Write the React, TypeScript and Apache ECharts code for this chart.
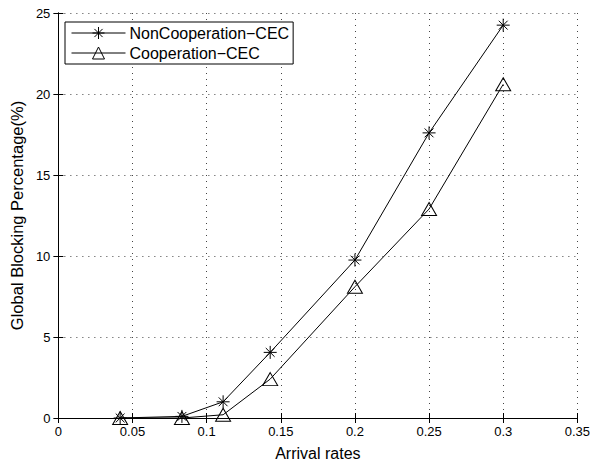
import React, { useEffect, useRef } from "react";
import * as echarts from "echarts";

const arrivalRates = [1 / 24, 1 / 12, 1 / 9, 1 / 7, 0.2, 0.25, 0.3];
const nonCoop = [0.0, 0.1, 1.0, 4.05, 9.75, 17.6, 24.25];
const coop = [0.0, 0.0, 0.2, 2.4, 8.1, 12.9, 20.6];
const seriesNames = ["NonCooperation\u2212CEC", "Cooperation\u2212CEC"];

const STAR = "path://M0,5L10,5M5,0L5,10M1.6,1.6L8.4,8.4M1.6,8.4L8.4,1.6";
const FONT = "Liberation Sans, Arial, Helvetica, sans-serif";

export default function App() {
  const ref = useRef<HTMLDivElement>(null);
  useEffect(() => {
    if (!ref.current) return;
    const chart = echarts.init(ref.current, null, { renderer: "svg" });
    const grid = { left: 57, right: 14, top: 13, bottom: 42, containLabel: false };
    const gridLine = { show: true, lineStyle: { color: "#444", width: 1, type: [1, 5] as any } };
    chart.setOption({
      animation: false,
      backgroundColor: "#fff",
      textStyle: { fontFamily: FONT },
      grid,
      legend: {
        left: 65,
        top: 22,
        orient: "vertical",
        itemWidth: 54,
        itemHeight: 15,
        itemGap: 4,
        padding: [3, 4, 3, 6],
        borderColor: "#000",
        borderWidth: 1,
        backgroundColor: "#fff",
        lineStyle: { width: 1 },
        itemStyle: { borderWidth: 1 },
        textStyle: { fontFamily: FONT, fontSize: 16, color: "#000", padding: [0, 0, 0, -1] },
        data: seriesNames,
      },
      xAxis: [
        {
          type: "value",
          min: 0,
          max: 0.35,
          interval: 0.05,
          name: "Arrival rates",
          nameLocation: "middle",
          nameGap: 27,
          nameTextStyle: { fontFamily: FONT, fontSize: 16, color: "#000" },
          axisLine: { show: true, lineStyle: { color: "#000", width: 1 } },
          axisTick: { show: true, inside: true, length: 5, lineStyle: { color: "#000" } },
          axisLabel: { fontFamily: FONT, fontSize: 13, color: "#000", margin: 7 },
          splitLine: gridLine,
        },
        {
          type: "value",
          position: "top",
          min: 0,
          max: 0.35,
          interval: 0.05,
          axisLine: { show: true, lineStyle: { color: "#000", width: 1 } },
          axisTick: { show: true, inside: true, length: 5, lineStyle: { color: "#000" } },
          axisLabel: { show: false },
          splitLine: { show: false },
        },
      ],
      yAxis: [
        {
          type: "value",
          min: 0,
          max: 25,
          interval: 5,
          name: "Global Blocking Percentage(%)",
          nameLocation: "middle",
          nameGap: 31,
          nameTextStyle: { fontFamily: FONT, fontSize: 16.5, color: "#000" },
          axisLine: { show: true, lineStyle: { color: "#000", width: 1 } },
          axisTick: { show: true, inside: true, length: 5, lineStyle: { color: "#000" } },
          axisLabel: { fontFamily: FONT, fontSize: 13, color: "#000", margin: 8 },
          splitLine: gridLine,
        },
        {
          type: "value",
          position: "right",
          min: 0,
          max: 25,
          interval: 5,
          axisLine: { show: true, lineStyle: { color: "#000", width: 1 } },
          axisTick: { show: true, inside: true, length: 5, lineStyle: { color: "#000" } },
          axisLabel: { show: false },
          splitLine: { show: false },
        },
      ],
      series: [
        {
          name: seriesNames[0],
          type: "line",
          data: arrivalRates.map((x, i) => [x, nonCoop[i]]),
          symbol: STAR,
          symbolSize: 13,
          lineStyle: { color: "#000", width: 1 },
          itemStyle: { color: "rgba(0,0,0,0)", borderColor: "#000", borderWidth: 1 },
          z: 3,
        },
        {
          name: seriesNames[1],
          type: "line",
          data: arrivalRates.map((x, i) => [x, coop[i]]),
          symbol: "triangle",
          symbolSize: [15, 13],
          lineStyle: { color: "#000", width: 1 },
          itemStyle: { color: "rgba(0,0,0,0)", borderColor: "#000", borderWidth: 1 },
          z: 3,
        },
      ],
    });
    return () => chart.dispose();
  }, []);
  return <div ref={ref} style={{ width: 593, height: 466, position: "absolute", left: 0, top: 0 }} />;
}
